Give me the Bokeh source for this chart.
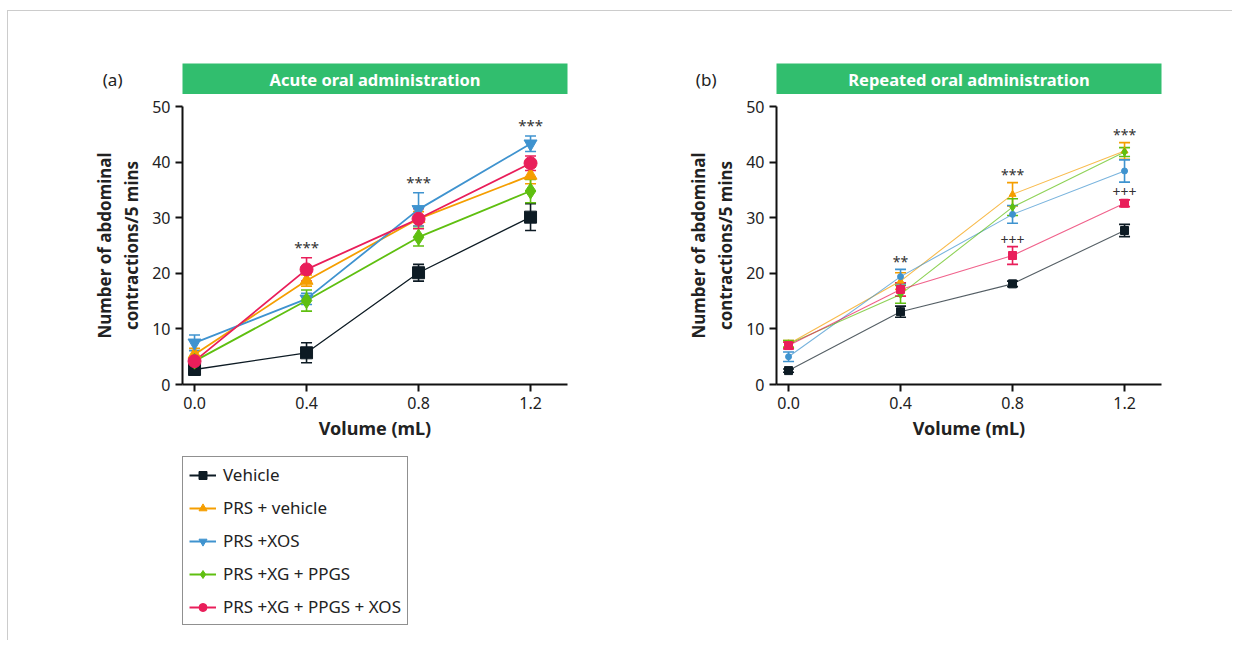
from bokeh.plotting import figure
from bokeh.layouts import row, column
from bokeh.models import Range1d, Label, Legend, LegendItem, ColumnDataSource, FixedTicker, NumeralTickFormatter
from bokeh.core.properties import value
from bokeh.embed import file_html
from bokeh.resources import INLINE

FONT = "Noto Sans"

# ---------------- data ----------------
x_vals = [0.0, 0.4, 0.8, 1.2]
series_names = ["Vehicle", "PRS + vehicle", "PRS +XOS", "PRS +XG + PPGS", "PRS +XG + PPGS + XOS"]
series_colors = ["#0d1b24", "#f59e00", "#3f93cf", "#5fbf10", "#e91e5a"]
series_markers_a = ["square", "triangle", "inverted_triangle", "diamond", "circle"]
series_sizes_a = [12, 13, 13, 16, 13]
series_widths_a = [1.3, 1.8, 1.8, 1.8, 1.8]
series_markers_b = ["square", "triangle", "circle", "diamond", "square"]
series_sizes_b = [8, 7, 6, 8, 8]
series_widths_b = [1.1, 1.1, 1.1, 1.1, 1.1]

# (a) acute oral administration: means and SEM
a_vehicle = [2.7, 5.7, 20.1, 30.1]
a_vehicle_err = [0.3, 1.8, 1.5, 2.4]
a_prs = [5.4, 18.7, 29.8, 37.6]
a_prs_err = [1.1, 1.0, 1.3, 1.5]
a_xos = [7.5, 15.4, 31.5, 43.3]
a_xos_err = [1.4, 1.0, 3.0, 1.4]
a_xg = [4.2, 15.1, 26.5, 34.8]
a_xg_err = [0.6, 1.9, 1.6, 2.1]
a_mix = [4.2, 20.7, 29.8, 39.8]
a_mix_err = [0.5, 2.1, 1.8, 1.3]

# (b) repeated oral administration
r_vehicle = [2.5, 13.1, 18.1, 27.7]
r_vehicle_err = [0.3, 1.0, 0.5, 1.1]
r_prs = [7.3, 18.6, 34.2, 42.0]
r_prs_err = [0.6, 1.5, 2.1, 1.5]
r_xos = [5.0, 19.4, 30.6, 38.4]
r_xos_err = [0.85, 1.3, 1.6, 2.0]
r_xg = [7.3, 16.2, 31.9, 41.8]
r_xg_err = [0.6, 1.6, 1.5, 0.8]
r_mix = [7.0, 17.1, 23.2, 32.6]
r_mix_err = [0.6, 1.2, 1.6, 0.6]

# significance marks
a_ann_x = [0.4, 0.8, 1.2]
a_ann_y = [24.7, 36.4, 46.7]
a_ann_text = ["***", "***", "***"]
b_ann_x = [0.4, 0.8, 0.8, 1.2, 1.2]
b_ann_y = [22.2, 37.8, 26.0, 44.9, 34.6]
b_ann_text = ["**", "***", "+++", "***", "+++"]

y_ticks = [0, 10, 20, 30, 40, 50]
x_ticks = [0.0, 0.4, 0.8, 1.2]

panel_titles = ["Acute oral administration", "Repeated oral administration"]
panel_letters = ["(a)", "(b)"]
x_label = "Volume (mL)"
y_label = "Number of abdominal\ncontractions/5 mins"

BANNER = "#31be6e"
TXT = "#222222"


def header(width, left, right, title, letter):
    h = figure(width=width, height=83, output_backend="svg", toolbar_location=None,
               x_range=Range1d(0, 1), y_range=Range1d(0, 1),
               x_axis_type=None,
               min_border_left=left, min_border_right=right,
               min_border_top=52, min_border_bottom=0)
    h.grid.visible = False
    h.outline_line_color = None
    h.background_fill_color = BANNER
    ya = h.yaxis[0]
    ya.ticker = FixedTicker(ticks=[])
    ya.axis_line_color = None
    ya.major_tick_line_color = None
    ya.minor_tick_line_color = None
    ya.axis_label = letter
    ya.axis_label_orientation = "horizontal"
    ya.axis_label_standoff = 60
    ya.axis_label_text_font = FONT
    ya.axis_label_text_font_size = "17px"
    ya.axis_label_text_font_style = "normal"
    ya.axis_label_text_color = TXT
    h.add_layout(Label(x=0.5, y=0.5, text=title, text_align="center", text_baseline="middle",
                       text_color="white", text_font=FONT, text_font_style="bold",
                       text_font_size="16.5px"))
    return h


def panel(width, left, right, series, errs, markers, sizes, widths, alpha, ann):
    p = figure(width=width, height=360, output_backend="svg", toolbar_location=None,
               x_range=Range1d(-0.043, 1.332), y_range=Range1d(0, 50),
               min_border_left=left, min_border_right=right,
               min_border_top=12, min_border_bottom=70)
    p.grid.visible = False
    p.outline_line_color = None
    for ax in (p.xaxis, p.yaxis):
        ax.axis_line_width = 2
        ax.axis_line_color = "#111111"
        ax.major_tick_line_width = 2
        ax.major_tick_line_color = "#111111"
        ax.major_tick_out = 7
        ax.major_tick_in = 0
        ax.minor_tick_line_color = None
        ax.major_label_text_font = FONT
        ax.major_label_text_font_size = "16px"
        ax.major_label_text_color = TXT
        ax.axis_label_text_font = FONT
        ax.axis_label_text_font_style = "bold"
        ax.axis_label_text_color = TXT
    p.xaxis.axis_label_text_font_size = "18px"
    p.yaxis.axis_label_text_font_size = "17px"
    p.xaxis.ticker = FixedTicker(ticks=x_ticks)
    p.xaxis.formatter = NumeralTickFormatter(format="0.0")
    p.yaxis.ticker = FixedTicker(ticks=y_ticks)
    p.xaxis.axis_label = x_label
    p.yaxis.axis_label = y_label
    p.yaxis.axis_label_standoff = 6
    p.xaxis.axis_label_standoff = 4

    for vals, err, col in zip(series, errs, series_colors):
        src = ColumnDataSource(dict(x=x_vals, y=vals,
                                    lo=[v - e for v, e in zip(vals, err)],
                                    hi=[v + e for v, e in zip(vals, err)]))
        p.segment(x0="x", y0="lo", x1="x", y1="hi", source=src, line_color=col, line_width=1.6)
        p.scatter(x="x", y="lo", source=src, marker="dash", size=11, line_color=col, line_width=1.6)
        p.scatter(x="x", y="hi", source=src, marker="dash", size=11, line_color=col, line_width=1.6)
    for vals, col, lw in zip(series, series_colors, widths):
        p.line(x_vals, vals, line_color=col, line_width=lw, line_alpha=alpha)
    for vals, col, mk, sz in zip(series, series_colors, markers, sizes):
        p.scatter(x_vals, vals, marker=mk, size=sz, fill_color=col, line_color=col)

    ax_, ay_, at_, fs = ann
    asrc = ColumnDataSource(dict(x=ax_, y=ay_, t=at_))
    p.text(x="x", y="y", text="t", source=asrc, text_align="center", text_baseline="middle",
           text_font=value(FONT), text_font_size=value(fs), text_color="#333333")
    return p


hdr_a = header(600, 174, 41, panel_titles[0], panel_letters[0])
hdr_b = header(624, 168, 71, panel_titles[1], panel_letters[1])

pa = panel(600, 174, 41,
           [a_vehicle, a_prs, a_xos, a_xg, a_mix],
           [a_vehicle_err, a_prs_err, a_xos_err, a_xg_err, a_mix_err],
           series_markers_a, series_sizes_a, series_widths_a, 1.0,
           (a_ann_x, a_ann_y, a_ann_text, "15px"))
pb = panel(624, 168, 71,
           [r_vehicle, r_prs, r_xos, r_xg, r_mix],
           [r_vehicle_err, r_prs_err, r_xos_err, r_xg_err, r_mix_err],
           series_markers_b, series_sizes_b, series_widths_b, 0.7,
           (b_ann_x, b_ann_y, b_ann_text, "14px"))

# legend figure (its renderers sit outside the visible range; only the key is shown)
lg = figure(width=600, height=186, output_backend="svg", toolbar_location=None,
            x_range=Range1d(0, 1), y_range=Range1d(0, 1), x_axis_type=None, y_axis_type=None,
            min_border_left=0, min_border_right=0, min_border_top=0, min_border_bottom=0)
lg.grid.visible = False
lg.outline_line_color = None
items = []
for name, col, mk, sz in zip(series_names, series_colors, series_markers_a, series_sizes_a):
    r1 = lg.line(x=[-5, -4], y=[-5, -5], line_color=col, line_width=2)
    r2 = lg.scatter(x=[-5], y=[-5], marker=mk, size=sz - 2, fill_color=col, line_color=col)
    items.append(LegendItem(label=name, renderers=[r1, r2]))
legend = Legend(items=items, location=(0, 15), margin=0, padding=6,
                spacing=10, label_height=20, glyph_height=20, glyph_width=27,
                label_standoff=7, label_text_font=FONT, label_text_font_size="17px",
                label_text_color=TXT, border_line_color="#222222", border_line_width=1,
                background_fill_alpha=1.0)
lg.add_layout(legend)

root = row(column(hdr_a, pa, lg), column(hdr_b, pb),
           styles={"border-top": "1px solid #cccccc", "border-left": "1px solid #cccccc",
                   "margin-top": "10px", "margin-left": "7px"})

open("out.html", "w").write(file_html(root, INLINE))
